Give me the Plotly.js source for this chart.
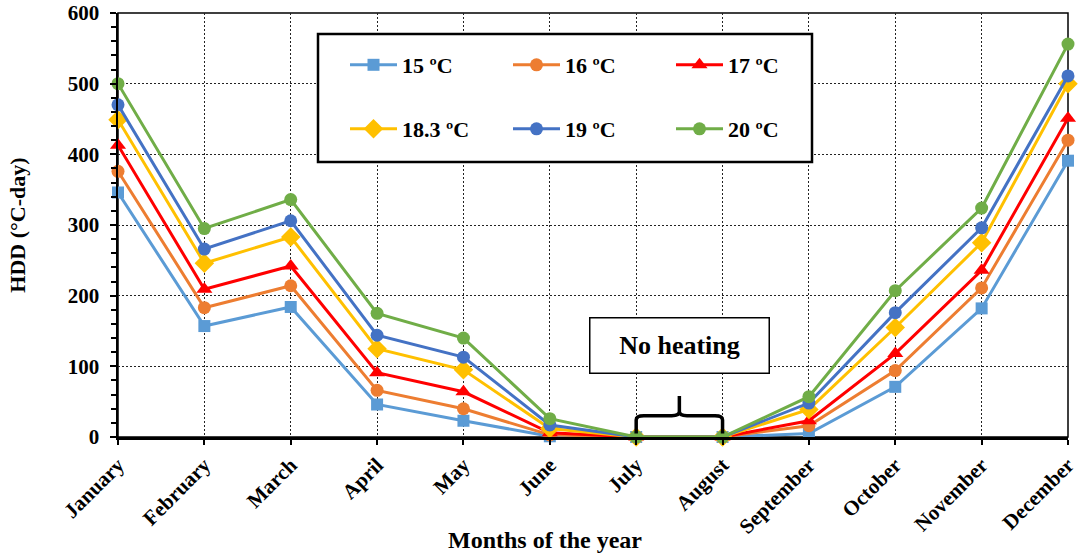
<!DOCTYPE html>
<html>
<head>
<meta charset="utf-8">
<script src="https://cdn.plot.ly/plotly-3.0.1.min.js"></script>
<style>
  html, body { margin: 0; padding: 0; background: #fff; }
  #chart { width: 1078px; height: 558px; }
</style>
</head>
<body>
<div id="chart"></div>
<script>
// Monthly heating degree days for several base temperatures
const months = ['January', 'February', 'March', 'April', 'May', 'June',
                'July', 'August', 'September', 'October', 'November', 'December'];

const hdd15  = [346, 157, 184,  46,  23,  1, 0, 0,  5,  71, 182, 391];
const hdd16  = [376, 183, 214,  66,  40,  3, 0, 0, 16,  94, 211, 420];
const hdd17  = [413, 209, 242,  91,  64,  6, 0, 0, 23, 118, 236, 451];
const hdd183 = [449, 246, 283, 125,  95, 12, 0, 0, 39, 155, 275, 500];
const hdd19  = [470, 266, 306, 144, 113, 17, 0, 0, 48, 176, 296, 511];
const hdd20  = [500, 295, 336, 175, 140, 26, 0, 0, 57, 207, 324, 556];

const seriesNames = ['15 ºC', '16 ºC', '17 ºC', '18.3 ºC', '19 ºC', '20 ºC'];
const yTickVals = [0, 100, 200, 300, 400, 500, 600];

const FONT = '"Liberation Serif", "Times New Roman", serif';

const styles = [
  { color: '#5B9BD5', symbol: 'square',      size: 12, legend: 'legend'  },
  { color: '#ED7D31', symbol: 'circle',      size: 13, legend: 'legend'  },
  { color: '#FF0000', symbol: 'triangle-up', size: 14, legend: 'legend'  },
  { color: '#FFC000', symbol: 'diamond',     size: 15, legend: 'legend2' },
  { color: '#4472C4', symbol: 'circle',      size: 13, legend: 'legend2' },
  { color: '#70AD47', symbol: 'circle',      size: 13, legend: 'legend2' }
];

const series = [hdd15, hdd16, hdd17, hdd183, hdd19, hdd20];

const traces = series.map((vals, i) => ({
  type: 'scatter',
  mode: 'lines+markers',
  x: months,
  y: vals,
  name: seriesNames[i],
  legend: styles[i].legend,
  cliponaxis: false,
  line: { color: styles[i].color, width: 3 },
  marker: { color: styles[i].color, symbol: styles[i].symbol, size: styles[i].size }
}));

// brace spanning the months without heating
const iJul = months.indexOf('July'), iAug = months.indexOf('August');
const nX = months.length - 1;
const bx0 = iJul / nX, bx1 = iAug / nX, bxm = (bx0 + bx1) / 2, r = 0.008;
const bracePath =
  `M${bx0},5 L${bx0},24 Q${bx0},30 ${bx0 + r},30 L${bxm - r},30 Q${bxm},30 ${bxm},36 L${bxm},58 ` +
  `M${bxm},36 Q${bxm},30 ${bxm + r},30 L${bx1 - r},30 Q${bx1},30 ${bx1},24 L${bx1},5`;

const legendCommon = {
  orientation: 'h',
  xanchor: 'left',
  yanchor: 'middle',
  bgcolor: 'rgba(0,0,0,0)',
  borderwidth: 0,
  itemwidth: 47,
  entrywidthmode: 'pixels',
  entrywidth: 101,
  font: { family: FONT, size: 22, color: '#000', weight: 'bold' }
};

const layout = {
  width: 1078,
  height: 558,
  margin: { l: 118, r: 10, t: 13, b: 121 },
  paper_bgcolor: '#fff',
  plot_bgcolor: '#fff',
  showlegend: true,
  font: { family: FONT, color: '#000' },
  xaxis: {
    type: 'category',
    range: [0, nX],
    showline: true,
    linecolor: '#000',
    linewidth: 2.5,
    ticks: 'outside',
    ticklen: 5,
    tickwidth: 2,
    tickcolor: '#000',
    tickangle: -45,
    tickfont: { family: FONT, size: 21, color: '#000', weight: 'bold' },
    showgrid: true,
    gridcolor: '#222',
    gridwidth: 1,
    griddash: '2px,2px',
    zeroline: false
  },
  yaxis: {
    range: [0, 600],
    tickvals: yTickVals,
    showline: true,
    linecolor: '#000',
    linewidth: 2.5,
    ticks: 'outside',
    ticklen: 6,
    tickwidth: 2,
    tickcolor: '#000',
    ticklabelstandoff: 6,
    tickfont: { family: FONT, size: 21, color: '#000', weight: 'bold' },
    minor: { dtick: 20, ticks: 'outside', ticklen: 5, tickwidth: 2, tickcolor: '#000', showgrid: false },
    showgrid: true,
    gridcolor: '#222',
    gridwidth: 1,
    griddash: '2px,2px',
    zeroline: false,
    title: { text: 'HDD (°C-day)', font: { family: FONT, size: 22, color: '#000', weight: 'bold' }, standoff: 36 }
  },
  legend: Object.assign({}, legendCommon, { x: (345 - 118) / 950, y: (437 - 65) / 424 }),
  legend2: Object.assign({}, legendCommon, { x: (345 - 118) / 950, y: (437 - 129) / 424 }),
  shapes: [
    // frame around the plotting area
    { type: 'rect', xref: 'paper', yref: 'paper', x0: 0, x1: 1, y0: 0, y1: 1,
      line: { color: '#000', width: 1.5 }, layer: 'below' },
    // legend frame
    { type: 'rect', xref: 'paper', yref: 'paper',
      x0: (318 - 118) / 950, x1: (812 - 118) / 950,
      y0: (437 - 162) / 424, y1: (437 - 34) / 424,
      line: { color: '#000', width: 2.5 }, fillcolor: '#fff', layer: 'above' },
    // brace over July–August
    { type: 'path', xref: 'paper', yref: 'y', path: bracePath,
      line: { color: '#000', width: 3.5 }, layer: 'above' }
  ],
  annotations: [
    { text: 'No heating', xref: 'paper', yref: 'y', x: bxm, y: 129,
      showarrow: false, font: { family: FONT, size: 26, color: '#000', weight: 'bold' },
      bgcolor: '#fff', bordercolor: '#000', borderwidth: 1.5, borderpad: 4,
      width: 170, height: 46 },
    { text: 'Months of the year', xref: 'paper', yref: 'paper',
      x: (545 - 118) / 950, y: (437 - 540) / 424, xanchor: 'center', yanchor: 'middle',
      showarrow: false, font: { family: FONT, size: 24, color: '#000', weight: 'bold' } }
  ]
};

Plotly.newPlot('chart', traces, layout, { displayModeBar: false, staticPlot: true });
</script>
</body>
</html>
